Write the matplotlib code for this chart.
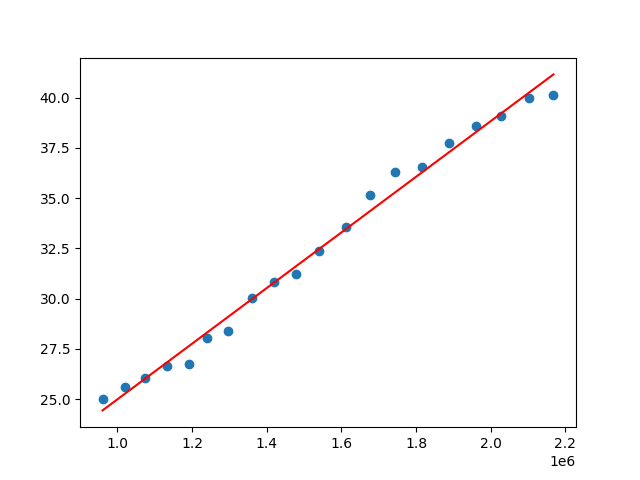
import numpy as np
import matplotlib
matplotlib.use("Agg")
import matplotlib.pyplot as plt

x_values = [0.960e6, 1.019e6, 1.075e6, 1.134e6, 1.191e6, 1.239e6, 1.295e6,
            1.360e6, 1.419e6, 1.478e6, 1.541e6, 1.612e6, 1.677e6, 1.744e6,
            1.816e6, 1.889e6, 1.961e6, 2.028e6, 2.103e6, 2.168e6]
y_values = [25.00, 25.60, 26.03, 26.64, 26.73, 28.03, 28.39, 30.03, 30.82,
            31.23, 32.37, 33.57, 35.16, 36.30, 36.56, 37.76, 38.60, 39.10,
            39.99, 40.15]


def main():
    x = np.array(x_values)
    y = np.array(y_values)
    slope, intercept = np.polyfit(x, y, 1)

    fig, ax = plt.subplots(figsize=(6.4, 4.8), dpi=100)
    ax.scatter(x, y)
    ax.plot(x, slope * x + intercept, color="red")
    fig.savefig("out.png")
    plt.close(fig)


if __name__ == "__main__":
    main()
